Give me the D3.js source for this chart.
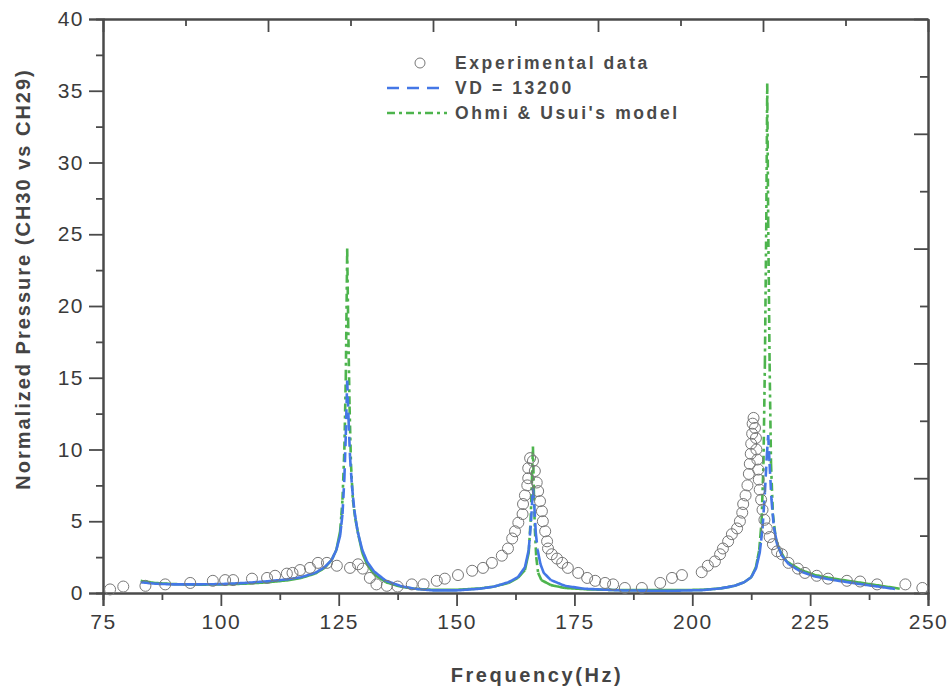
<!DOCTYPE html>
<html><head><meta charset="utf-8">
<script src="https://cdn.jsdelivr.net/npm/d3@7/dist/d3.min.js"></script>
<style>body{margin:0;background:#fff}</style>
</head><body>
<svg id="c" width="951" height="690"></svg>
<script>
// ---- data ----
const xTickValues = [75, 100, 125, 150, 175, 200, 225, 250];
const yTickValues = [0, 5, 10, 15, 20, 25, 30, 35, 40];
const seriesNames = ["Experimental data", "VD = 13200", "Ohmi & Usui's model"];

const expFreq = [76.5,79.3,84,88.2,93.5,98.3,100.9,102.6,106.6,109.8,111.5,114,115.2,116.8,118.9,120.6,122.5,124.6,
  127.4,129.1,130.1,131.6,133,135.2,137.5,140.5,143,145.8,147.5,150.3,153.3,155.6,157.5,159.6,160.9,161.8,162.4,163.1,
  164,164.1,164.5,165,165.2,165.2,165.6,166.2,166.6,167,167.3,167.7,168.1,168.3,168.8,169.2,169.4,170.2,171.3,172.4,
  173.6,175.8,177.7,179.4,181.5,183.2,185.7,189.3,193.2,195.7,197.8,202,203.3,204.8,205.9,206.5,207.6,208.4,209.5,
  210.1,210.6,210.8,211.3,211.7,212,212.2,212.4,212.5,212.7,212.8,213,213.3,213.5,213.6,213.8,214,214.1,214.3,214.6,
  214.9,215.3,215.8,216.4,217.1,218,219,220.4,222.4,223.9,226.4,228.8,232.8,235.6,239.2,245.2,248.8];
const expVal = [0.25,0.45,0.5,0.6,0.7,0.85,0.9,0.9,1.0,1.05,1.2,1.35,1.4,1.6,1.75,2.1,2.1,1.9,
  1.75,2.0,1.7,1.05,0.6,0.5,0.45,0.6,0.6,0.85,1.0,1.25,1.55,1.75,2.1,2.6,3.1,3.8,4.3,4.9,
  5.5,6.2,6.8,7.5,8.0,8.7,9.4,9.2,8.5,7.7,7.1,6.4,5.7,5.0,4.3,3.6,3.1,2.7,2.4,2.1,
  1.75,1.4,1.05,0.85,0.7,0.6,0.35,0.35,0.7,1.05,1.25,1.45,1.9,2.2,2.7,3.1,3.6,4.1,4.5,
  5.0,5.6,6.2,6.8,7.5,8.3,9.0,9.7,10.4,11.1,11.8,12.2,11.5,10.8,10.0,9.3,8.6,7.9,7.2,6.5,
  5.8,5.1,4.5,3.9,3.4,2.9,2.7,2.1,1.7,1.4,1.2,1.0,0.85,0.8,0.6,0.6,0.35];

const vdFreq = [83,86,90,95,100,105,110,114,117,120,122,123.5,124.5,125.3,125.8,126.2,126.5,126.8,127.1,127.4,127.8,
  128.3,129,130,131,132.5,135,138,141,145,150,155,158,161,163,164.5,165.3,165.8,166.2,166.5,166.8,167.2,167.8,168.5,
  170,173,177,185,195,202,206,209,211,212.5,213.5,214.3,214.9,215.4,215.8,216.1,216.4,216.8,217.3,218,219,220.5,
  223,226,230,235,240,243];
const vdVal = [0.75,0.65,0.6,0.6,0.62,0.7,0.82,0.95,1.1,1.4,1.8,2.3,3.0,4.0,5.5,8,11,14.8,12,9.5,7.5,
  5.8,4.3,3.0,2.2,1.5,0.85,0.5,0.3,0.18,0.18,0.3,0.45,0.75,1.1,1.8,3.0,5,7.3,6,4.2,3,2,1.4,
  0.9,0.5,0.3,0.18,0.15,0.2,0.32,0.5,0.75,1.1,1.7,2.8,4.5,7,9.5,11,9,6.5,4.6,3.4,2.6,2.0,
  1.5,1.15,0.9,0.65,0.42,0.28];

const ohmiFreq = [83,86,90,95,100,105,110,114,117,120,122,123.5,124.5,125.3,125.8,126.2,126.5,126.8,127.0,127.3,127.6,
  128,128.5,129.2,130,131,132.5,135,138,141,145,150,155,158,161,163,164.5,165.3,165.7,166,166.2,166.4,166.6,166.9,
  167.3,168,170,173,178,185,195,202,206,209,211,212.5,213.5,214.2,214.7,215.1,215.4,215.7,215.9,216.1,216.4,216.7,
  217.1,217.7,218.5,220,223,226,230,235,240,244];
const ohmiVal = [0.85,0.7,0.62,0.58,0.6,0.65,0.75,0.88,1.05,1.35,1.75,2.3,3.0,4.3,6.5,10,15,24,19,13,9,
  6.5,5.2,4.0,2.8,2.0,1.3,0.75,0.45,0.3,0.22,0.22,0.32,0.45,0.7,1.05,1.6,2.8,5,8,10.2,7,4.5,2.5,
  1.4,0.9,0.55,0.35,0.25,0.2,0.2,0.22,0.32,0.5,0.75,1.1,1.8,3.0,5,9,16,26,35.5,26,16,9,
  5.5,3.8,3.0,2.2,1.6,1.25,1.0,0.75,0.5,0.3];

// ---- layout ----
const svg = d3.select("#c");
const L = 103, R = 928, T = 19, B = 593;
const x = d3.scaleLinear().domain([75, 250]).range([L, R]);
const y = d3.scaleLinear().domain([0, 40]).range([B, T]);
const axisColor = "#4a4a4a", textColor = "#3a3a3a";
const font = "'Liberation Sans', Arial, sans-serif";

function styleAxis(g) {
  g.select(".domain").attr("stroke", axisColor).attr("stroke-width", 2);
  g.selectAll(".tick line").attr("stroke", axisColor).attr("stroke-width", 1.8);
  g.selectAll(".tick text").attr("fill", textColor).style("font-family", font)
    .style("font-size", "21px").style("letter-spacing", "1.5px");
}

// bottom axis (outward ticks)
const xMinor = d3.range(87.5, 250, 25);
svg.append("g").attr("transform", `translate(0,${B})`)
  .call(d3.axisBottom(x).tickValues(xMinor).tickSize(7).tickFormat(""))
  .call(styleAxis);
svg.append("g").attr("transform", `translate(0,${B})`)
  .call(d3.axisBottom(x).tickValues(xTickValues).tickSize(13).tickPadding(8).tickFormat(d3.format("d")))
  .call(styleAxis);

// left axis (outward ticks)
const yMinor = d3.range(2.5, 40, 5);
svg.append("g").attr("transform", `translate(${L},0)`)
  .call(d3.axisLeft(y).tickValues(yMinor).tickSize(7).tickFormat(""))
  .call(styleAxis);
svg.append("g").attr("transform", `translate(${L},0)`)
  .call(d3.axisLeft(y).tickValues(yTickValues).tickSize(14).tickPadding(5).tickFormat(d3.format("d")))
  .call(styleAxis);

// top axis (inward ticks, 10 intervals)
const topMajor = d3.range(0, 11, 2).map(k => 75 + 17.5 * k);
const topMinor = d3.range(1, 11, 2).map(k => 75 + 17.5 * k);
svg.append("g").attr("transform", `translate(0,${T})`)
  .call(d3.axisTop(x).tickValues(topMinor).tickSizeInner(-7).tickSizeOuter(0).tickFormat(""))
  .call(styleAxis);
svg.append("g").attr("transform", `translate(0,${T})`)
  .call(d3.axisTop(x).tickValues(topMajor).tickSizeInner(-13).tickSizeOuter(0).tickFormat(""))
  .call(styleAxis);

// right axis (inward ticks, 10 intervals)
const rightMajor = d3.range(0, 41, 8);
const rightMinor = d3.range(4, 40, 8);
svg.append("g").attr("transform", `translate(${R},0)`)
  .call(d3.axisRight(y).tickValues(rightMinor).tickSizeInner(-8).tickSizeOuter(0).tickFormat(""))
  .call(styleAxis);
svg.append("g").attr("transform", `translate(${R},0)`)
  .call(d3.axisRight(y).tickValues(rightMajor).tickSizeInner(-14).tickSizeOuter(0).tickFormat(""))
  .call(styleAxis);

// axis titles
svg.append("text").attr("x", 537).attr("y", 682).attr("text-anchor", "middle")
  .attr("fill", "#444").style("font-family", font).style("font-weight", "bold")
  .style("font-size", "20px").style("letter-spacing", "2.6px").text("Frequency(Hz)");
svg.append("text").attr("transform", "translate(30,279) rotate(-90)").attr("text-anchor", "middle")
  .attr("fill", "#444").style("font-family", font).style("font-weight", "bold")
  .style("font-size", "20px").style("letter-spacing", "2px").text("Normalized Pressure (CH30 vs CH29)");

// curves: dash pattern restarts on every short piece (like the original trace drawn point to point)
function dashedPath(fr, vals) {
  let d = "";
  for (let i = 0; i < fr.length - 1; i++) {
    const n = Math.max(1, Math.round((fr[i + 1] - fr[i]) / 0.3));
    const fx = d3.interpolateNumber(fr[i], fr[i + 1]);
    const fy = d3.interpolateNumber(vals[i], vals[i + 1]);
    for (let k = 0; k < n; k++) {
      const a = k / n, b = (k + 1) / n;
      d += `M${x(fx(a)).toFixed(2)},${y(fy(a)).toFixed(2)}L${x(fx(b)).toFixed(2)},${y(fy(b)).toFixed(2)}`;
    }
  }
  return d;
}
const blue = "#4477e6", green = "#4db44d";
svg.append("path").attr("d", dashedPath(ohmiFreq, ohmiVal)).attr("fill", "none")
  .attr("stroke", green).attr("stroke-width", 2.6).attr("stroke-dasharray", "8,4,3,4");
svg.append("path").attr("d", dashedPath(vdFreq, vdVal)).attr("fill", "none")
  .attr("stroke", blue).attr("stroke-width", 2.6).attr("stroke-dasharray", "10,6");

// experimental circles
svg.append("g").selectAll("circle").data(expFreq.map((f, i) => [f, expVal[i]])).join("circle")
  .attr("cx", d => x(d[0])).attr("cy", d => y(d[1])).attr("r", 5.5)
  .attr("fill", "none").attr("stroke", "#777").attr("stroke-width", 1);

// legend
const lg = svg.append("g");
const lgFont = g => g.attr("fill", "#4a4a4a").style("font-family", font).style("font-weight", "bold")
  .style("font-size", "17.5px").style("letter-spacing", "2.6px").attr("dominant-baseline", "central");
lg.append("circle").attr("cx", 420).attr("cy", 63).attr("r", 5).attr("fill", "none").attr("stroke", "#777");
lg.append("text").attr("x", 455).attr("y", 63).call(lgFont).text(seriesNames[0]);
lg.append("line").attr("x1", 387).attr("x2", 447).attr("y1", 88).attr("y2", 88)
  .attr("stroke", blue).attr("stroke-width", 2.6).attr("stroke-dasharray", "12,8");
lg.append("text").attr("x", 455).attr("y", 88).call(lgFont).text(seriesNames[1]);
lg.append("line").attr("x1", 387).attr("x2", 447).attr("y1", 113).attr("y2", 113)
  .attr("stroke", green).attr("stroke-width", 2.6).attr("stroke-dasharray", "8,4,3,4");
lg.append("text").attr("x", 455).attr("y", 113).call(lgFont).text(seriesNames[2]);
</script>
</body></html>
